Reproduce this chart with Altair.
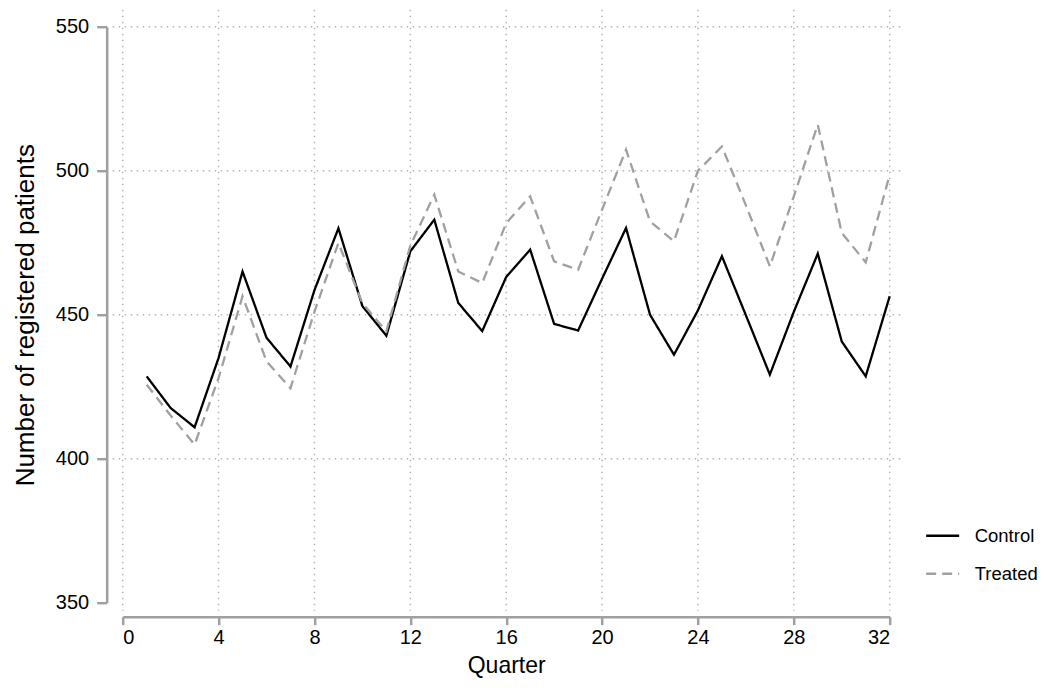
import altair as alt
import pandas as pd

quarters = list(range(1, 33))
control = [428.6, 417.6, 410.9, 435.0, 465.0, 442.0, 432.0, 458.5, 480.0, 453.0,
           442.7, 472.0, 483.0, 454.1, 444.3, 463.1, 472.6, 446.8, 444.5, 462.5,
           480.1, 450.0, 436.1, 451.5, 470.3, 449.8, 429.2, 451.0, 471.2, 440.7,
           428.6, 456.4]
treated = [425.7, 415.0, 404.9, 428.0, 456.4, 433.8, 424.5, 451.0, 474.9, 454.0,
           444.2, 474.0, 491.7, 465.0, 461.0, 481.8, 491.1, 468.5, 465.6, 486.5,
           507.3, 482.4, 475.5, 500.0, 508.4, 488.0, 466.8, 491.1, 516.0, 478.4,
           468.2, 498.6]
groups = ["Control", "Treated"]
x_ticks = [0, 4, 8, 12, 16, 20, 24, 28, 32]
y_ticks = [350, 400, 450, 500, 550]
y_grid = [400, 450, 500, 550]

df = pd.DataFrame({
    "Quarter": quarters * 2,
    "Value": control + treated,
    "Group": ["Control"] * len(quarters) + ["Treated"] * len(quarters),
})

FONT = "Liberation Sans"
AXIS_GREY = "#a0a0a0"
GRID_GREY = "#b4b4b4"

xs = alt.Scale(domain=[0, 32], nice=False, zero=False)
ys = alt.Scale(domain=[350, 550], nice=False, zero=False)

hgrid = alt.Chart(pd.DataFrame({"g": y_grid})).mark_rule(
    color=GRID_GREY, strokeWidth=1.5, strokeDash=[1.5, 4.5]
).encode(
    y=alt.Y("g:Q", scale=ys),
    x=alt.value(-10),
    x2=alt.value(782),
)

vgrid = alt.Chart(pd.DataFrame({"g": x_ticks})).mark_rule(
    color=GRID_GREY, strokeWidth=1.5, strokeDash=[1.5, 4.5]
).encode(
    x=alt.X("g:Q", scale=xs),
    y=alt.value(-17),
    y2=alt.value(584),
)

leg = dict(
    title=None, orient="none", legendX=802, legendY=491,
    symbolType="stroke", symbolSize=1089, symbolStrokeWidth=2.5,
    labelFontSize=18.5, labelOffset=14, rowPadding=10, padding=0,
    labelColor="#000",
)

lines = alt.Chart(df).mark_line(strokeWidth=2.3).encode(
    x=alt.X(
        "Quarter:Q", scale=xs, title="Quarter",
        axis=alt.Axis(
            values=x_ticks, grid=False, offset=14, tickSize=8, tickWidth=2.5,
            domainWidth=2.5, domainColor=AXIS_GREY, tickColor=AXIS_GREY,
            labelFontSize=20, labelPadding=3, labelColor="#000",
            titleFontSize=23, titleFontWeight="normal", titleColor="#000",
            titleBaseline="alphabetic", titleY=56,
        ),
    ),
    y=alt.Y(
        "Value:Q", scale=ys, title="Number of registered patients",
        axis=alt.Axis(
            values=y_ticks, grid=False, offset=16, tickSize=10, tickWidth=2.5,
            domainWidth=2.5, domainColor=AXIS_GREY, tickColor=AXIS_GREY,
            labelFontSize=20, labelPadding=8, labelColor="#000",
            titleFontSize=26, titleFontWeight="normal", titleColor="#000",
            titleBaseline="middle", titleX=-81, titleAngle=-90,
        ),
    ),
    color=alt.Color(
        "Group:N",
        scale=alt.Scale(domain=groups, range=["#000000", "#a0a0a0"]),
        legend=alt.Legend(**leg),
    ),
    strokeDash=alt.StrokeDash(
        "Group:N",
        scale=alt.Scale(domain=groups, range=[[1, 0], [10, 6]]),
        legend=alt.Legend(**leg),
    ),
)

chart = alt.layer(hgrid, vgrid, lines).properties(
    width=767,
    height=576,
    padding={"left": 114.7, "top": 18.7, "right": 148, "bottom": 77},
    autosize=alt.AutoSizeParams(type="none"),
).configure(
    font=FONT,
).configure_view(
    stroke=None,
).configure_legend(
    labelFont=FONT,
)

chart.save("out.html", embed_options={"renderer": "svg", "actions": False})
